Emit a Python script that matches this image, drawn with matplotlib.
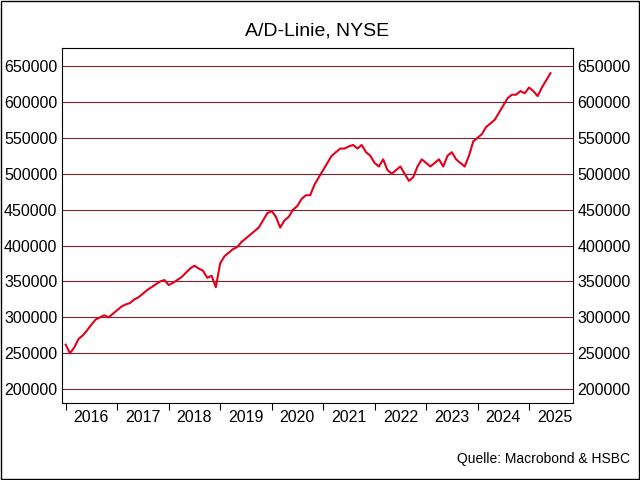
import numpy as np
import matplotlib
matplotlib.use("Agg")
import matplotlib.pyplot as plt

plt.rcParams["font.family"] = "Liberation Sans"

# monthly A/D line values (thousands), Jan 2016 .. Jun 2025
vals_2016 = [262, 250, 258, 270, 275, 282, 290, 297, 300, 303, 300, 305]
vals_2017 = [310, 315, 318, 320, 325, 328, 333, 338, 342, 346, 350, 352]
vals_2018 = [345, 348, 352, 356, 362, 368, 372, 368, 365, 355, 358, 342]
vals_2019 = [375, 385, 390, 395, 398, 405, 410, 415, 420, 425, 435, 445]
vals_2020 = [448, 440, 425, 435, 440, 450, 455, 465, 470, 470, 485, 495]
vals_2021 = [505, 515, 525, 530, 535, 535, 538, 540, 535, 540, 530, 525]
vals_2022 = [515, 510, 520, 505, 500, 505, 510, 500, 490, 495, 510, 520]
vals_2023 = [515, 510, 515, 520, 510, 525, 530, 520, 515, 510, 525, 545]
vals_2024 = [550, 555, 565, 570, 575, 585, 595, 605, 610, 610, 615, 612]
vals_2025 = [620, 615, 608, 620, 630, 640]

values = np.array(vals_2016 + vals_2017 + vals_2018 + vals_2019 + vals_2020 +
                  vals_2021 + vals_2022 + vals_2023 + vals_2024 + vals_2025) * 1000
t = 2016 + np.arange(len(values)) / 12.0
years = list(range(2016, 2026))

fig = plt.figure(figsize=(6.4, 4.8), dpi=100)
ax = fig.add_axes([0.097, 0.16, 0.798, 0.74])
ax.plot(t, values, color="#e2001a", lw=1.5)
ax.set_ylim(180500, 675000)
ax.set_xlim(2015.93, 2025.85)
ax.set_yticks(range(200000, 650001, 50000))
ax.yaxis.grid(True, color="#7a2430", lw=0.8)
ax.tick_params(axis="y", length=0, labelright=True, labelsize=11.5)
ax.set_xticks(years)
ax.set_xticklabels([])
ax.set_xticks([y + 0.5 for y in years], minor=True)
ax.set_xticklabels([str(y) for y in years], minor=True, fontsize=11.5)
ax.tick_params(axis="x", which="minor", length=0, pad=5)
ax.tick_params(axis="x", which="major", length=5, direction="out")
ax.set_title("A/D-Linie, NYSE", fontsize=14, pad=9)
fig.text(0.985, 0.035, "Quelle: Macrobond & HSBC", ha="right", fontsize=10)
fig.patches.append(plt.Rectangle((0.002, 0.002), 0.996, 0.996, transform=fig.transFigure,
                                 fill=False, edgecolor="black", lw=1))
fig.savefig("out.png", dpi=100)
